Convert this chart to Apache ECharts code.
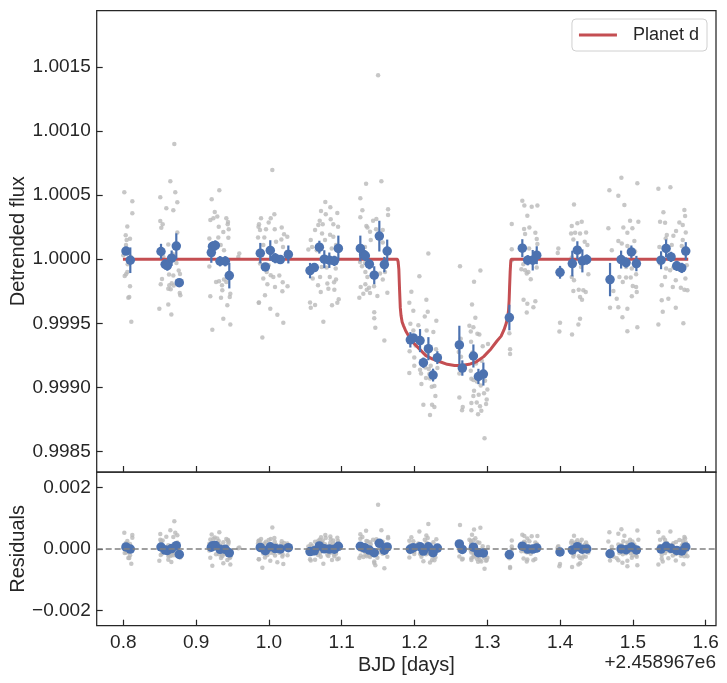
<!DOCTYPE html>
<html>
<head>
<meta charset="utf-8">
<script src="https://cdn.jsdelivr.net/npm/echarts@6/dist/echarts.min.js"></script>
<style>
  html, body { margin: 0; padding: 0; background: #fff; }
  #main { width: 727px; height: 683px; }
</style>
</head>
<body>
<div id="main"></div>
<script>
// raw photometry (grey points), one line per visit
var rawTime = [
  0.8014,0.8124,0.8124,0.8055,0.8033,0.8092,0.8046,0.8037,0.8055,0.8037,0.8019,0.8092,0.8082,0.8069,0.8110,0.8000,0.8060,0.8100,
  0.8701,0.8646,0.8714,0.8508,0.8742,0.8591,0.8687,0.8508,0.8541,0.8522,0.8742,0.8618,0.8761,0.8779,0.8628,0.8687,0.8532,0.8665,0.8632,0.8514,0.8692,0.8618,0.8651,0.8775,0.8783,0.8495,0.8618,0.8660,0.8550,0.8620,0.8680,0.8730,
  0.9319,0.9214,0.9256,0.9291,0.9237,0.9196,0.9415,0.9438,0.9434,0.9311,0.9374,0.9448,0.9182,0.9305,0.9338,0.9443,0.9383,0.9182,0.9274,0.9315,0.9383,0.9356,0.9415,0.9360,0.9470,0.9462,0.9195,0.9342,0.9429,0.9374,0.9470,0.9223,0.9593,0.9580,
  0.9857,0.9851,0.9860,1.0047,0.9892,1.0025,0.9864,0.9997,1.0075,0.9960,0.9878,1.0080,1.0176,0.9937,1.0208,1.0098,1.0171,1.0253,0.9923,1.0194,1.0245,0.9878,0.9997,0.9970,1.0025,1.0061,1.0143,0.9923,1.0190,0.9979,1.0084,1.0185,1.0256,0.9864,0.9946,1.0019,1.0116,1.0198,0.9910,
  1.0775,1.0844,1.0716,1.0781,1.0849,1.0940,1.0698,1.0679,1.0739,1.0885,1.0950,1.0634,1.0730,1.0840,1.0885,1.0575,1.0771,1.0593,1.0922,1.0542,1.0657,1.0863,1.0725,1.0794,1.0918,1.0602,1.0703,1.0836,1.0803,1.0895,1.0675,1.0922,1.0712,1.0899,1.0817,1.0959,1.0565,1.0634,1.0575,1.0867,1.0748,1.0940,
  1.1335,1.1545,1.1256,1.1284,1.1256,1.1339,1.1353,1.1476,1.1431,1.1472,1.1389,1.1399,1.1564,1.1503,1.1637,1.1637,1.1242,1.1320,1.1564,1.1252,1.1320,1.1279,1.1325,1.1353,1.1527,1.1595,1.1261,1.1325,1.1344,1.1376,1.1444,1.1564,1.1297,1.1389,1.1490,1.1242,1.1627,1.1447,1.1447,1.1462,1.1586,1.1500,
  1.1929,1.2190,1.2067,1.1957,1.2163,1.1984,1.2182,1.2141,1.2300,1.1943,1.2053,1.1984,1.2167,1.2259,1.1947,1.2015,1.1933,1.1997,1.2167,1.2213,1.2296,1.1997,1.2076,1.2149,1.2196,1.2090,1.2223,1.2314,1.2204,1.1929,1.2158,1.2213,1.2095,1.2237,1.2273,1.2287,1.2122,1.2241,1.2273,1.2213,
  1.2625,1.2905,1.2818,1.2790,1.2836,1.2754,1.2809,1.2773,1.2864,1.2891,1.2635,1.2777,1.2937,1.3010,1.2608,1.2639,1.2795,1.2924,1.2616,1.2773,1.2845,1.2781,1.2809,1.2855,1.2910,1.2969,1.3001,1.2818,1.2882,1.2955,1.2992,1.2809,1.2983,1.2781,1.2855,1.2900,1.2663,1.2653,1.2781,1.2873,1.2918,1.2616,1.2962,
  1.3303,1.3313,1.3313,1.3498,1.3542,1.3550,1.3564,1.3481,1.3509,1.3610,1.3688,1.3550,1.3336,1.3578,1.3505,1.3660,1.3519,1.3679,1.3336,1.3574,1.3688,1.3495,1.3468,1.3519,1.3679,1.3597,1.3542,1.3633,1.3660,1.3336,
  1.4191,1.4160,1.4237,1.4297,1.4151,1.4206,1.4274,1.4357,1.4182,1.4338,1.4375,1.3976,1.4160,1.4288,1.4388,1.4160,1.4191,1.4182,1.4256,1.4319,1.4352,1.4274,1.4301,1.3999,1.3990,1.4274,1.4251,1.4164,1.3968,
  1.4842,1.5061,1.4677,1.4800,1.4883,1.4961,1.5075,1.4663,1.4869,1.4924,1.4993,1.4800,1.4847,1.5020,1.4710,1.4924,1.5030,1.4824,1.4906,1.4985,1.5044,1.4814,1.4906,1.4970,1.4861,1.4998,1.5044,1.4778,1.4985,1.5053,1.4686,1.4800,1.4924,1.4856,1.5061,1.4924,1.4732,
  1.5350,1.5515,1.5419,1.5707,1.5717,1.5373,1.5442,1.5638,1.5685,1.5726,1.5466,1.5556,1.5593,1.5364,1.5451,1.5685,1.5534,1.5671,1.5373,1.5456,1.5511,1.5556,1.5625,1.5740,1.5442,1.5589,1.5721,1.5396,1.5548,1.5658,1.5707,1.5749,1.5487,1.5350,1.5589,1.5410,1.5693,1.5396
];
var rawFlux = [
  1.000523,1.000452,1.000358,1.000256,1.000186,1.000159,1.000149,1.000110,0.999900,0.999882,0.999869,0.999788,0.999705,0.999700,0.999512,1.000030,0.999960,1.000020,
  1.000899,1.000609,1.000523,1.000484,1.000444,1.000397,1.000382,1.000298,1.000272,1.000245,1.000209,1.000115,0.999911,0.999885,0.999880,0.999872,0.999846,0.999812,0.999796,0.999804,0.999794,0.999770,0.999765,0.999736,0.999718,0.999614,0.999647,0.999569,1.000020,0.999950,1.000040,0.999970,
  1.000538,1.000468,1.000368,1.000334,1.000319,1.000306,1.000319,1.000290,1.000272,1.000253,1.000212,1.000233,1.000162,1.000170,1.000110,1.000167,1.000070,0.999943,0.999822,0.999828,0.999841,0.999796,0.999822,0.999757,0.999731,0.999705,0.999710,0.999700,0.999640,0.999535,0.999490,0.999449,1.000045,1.000018,
  1.000253,1.000170,0.999660,1.000695,1.000319,1.000319,1.000272,1.000287,1.000350,1.000233,1.000227,1.000233,1.000248,1.000170,1.000194,1.000136,1.000154,1.000175,1.000110,1.000096,1.000057,0.999966,0.999953,0.999900,0.999875,0.999861,0.999872,0.999849,0.999820,0.999804,0.999783,0.999749,0.999788,0.999663,0.999718,0.999614,0.999567,0.999504,0.999389,
  1.000447,1.000405,1.000376,1.000350,1.000311,1.000360,1.000300,1.000266,1.000272,1.000272,1.000253,1.000227,1.000201,1.000190,1.000175,1.000149,1.000149,1.000096,1.000110,1.000076,1.000070,1.000084,0.999940,0.999935,0.999927,0.999849,0.999861,0.999861,0.999810,0.999820,0.999796,0.999841,0.999744,0.999762,0.999770,0.999687,0.999663,0.999642,0.999621,0.999640,0.999512,0.999660,
  1.000588,1.000609,1.000476,1.000382,1.000327,1.000259,1.000248,1.000313,1.000300,1.000233,1.000214,1.000149,1.000227,1.000170,1.000389,1.000345,1.000070,1.000096,1.000131,0.999979,0.999971,0.999945,0.999900,0.999861,0.999888,0.999900,0.999783,0.999804,0.999762,0.999778,0.999788,0.999841,0.999731,0.999736,0.999712,0.999700,0.999739,0.999587,0.999540,0.999465,0.999365,1.001434,
  0.999660,1.000045,0.999867,0.999747,0.999684,0.999598,0.999590,0.999553,0.999520,0.999496,0.999485,0.999444,0.999444,0.999433,0.999386,0.999326,0.999281,0.999234,0.999260,0.999287,0.999297,0.999169,0.999138,0.999156,0.999143,0.999109,0.999169,0.999151,0.999104,0.999112,0.999073,0.999070,0.999026,0.999005,0.999010,0.998932,0.998864,0.998864,0.998848,0.998785,
  0.999945,0.999911,0.999825,0.999647,0.999543,0.999480,0.999470,0.999436,0.999418,0.999412,0.999379,0.999357,0.999320,0.999339,0.999277,0.999240,0.999273,0.999208,0.999109,0.999130,0.999187,0.999067,0.999057,0.999046,0.999015,0.999052,0.998984,0.998973,0.998942,0.998955,0.998905,0.998932,0.998870,0.998879,0.998882,0.998853,0.998848,0.998822,0.998822,0.998791,0.998817,0.998921,0.998603,
  0.999422,0.999297,0.999260,0.999684,0.999585,0.999653,0.999900,1.000455,1.000418,1.000410,1.000418,1.000339,1.000274,1.000248,1.000235,1.000206,1.000196,1.000157,1.000078,1.000084,1.000118,0.999961,0.999922,0.999914,0.999935,0.999843,0.999888,0.999626,0.999671,0.999992,
  1.000426,1.000259,1.000280,1.000292,1.000201,1.000206,1.000201,1.000209,1.000154,1.000136,1.000110,1.000084,1.000013,0.999940,0.999882,0.999861,0.999835,0.999752,0.999762,0.999757,0.999744,0.999705,0.999684,0.999504,0.999436,0.999535,0.999490,0.999412,1.000049,
  1.000635,1.000593,1.000538,1.000494,1.000423,1.000300,1.000292,1.000241,1.000248,1.000206,1.000241,1.000141,1.000123,1.000141,1.000070,1.000102,1.000060,0.999992,0.999940,0.999927,0.999882,0.999861,0.999857,0.999857,0.999822,0.999791,0.999783,0.999692,0.999710,0.999744,0.999621,0.999626,0.999614,0.999548,0.999469,0.999438,0.999752,
  1.000549,1.000562,1.000366,1.000384,1.000337,1.000292,1.000285,1.000287,1.000266,1.000209,1.000188,1.000183,1.000219,1.000096,1.000162,1.000149,1.000110,1.000102,0.999966,0.999927,0.999914,0.999935,0.999935,0.999953,0.999861,0.999835,0.999849,0.999796,0.999783,0.999778,0.999762,0.999757,0.999692,0.999490,0.999621,0.999590,0.999501,0.999679
];

// binned points (blue) with error bars
var binTime = [
  0.8037,0.8096,0.8518,0.8575,0.8605,0.8664,0.8728,0.8769,
  0.9209,0.9225,0.9264,0.9329,0.9401,0.9456,
  0.9882,0.9951,1.0019,1.0088,1.0157,1.0267,
  1.0565,1.0624,1.0693,1.0761,1.0830,1.0899,1.0954,
  1.1256,1.1302,1.1325,1.1380,1.1447,1.1517,1.1586,1.1625,
  1.1943,1.1984,1.2076,1.2122,1.2191,1.2255,1.2314,
  1.2616,1.2657,1.2809,1.2878,1.2946,
  1.3303,1.3481,1.3555,1.3624,1.3679,
  1.3999,1.4168,1.4237,1.4306,1.4366,
  1.4686,1.4838,1.4906,1.4979,1.5048,
  1.5387,1.5456,1.5524,1.5602,1.5671,1.5726
];
var binFlux = [
  1.000063,0.999992,1.000060,0.999960,0.999950,1.000008,1.000102,0.999817,
  1.000052,1.000100,1.000107,0.999984,0.999984,0.999872,
  1.000047,0.999940,1.000068,1.000008,0.999997,1.000037,
  0.999911,0.999935,1.000094,1.000000,0.999992,0.999987,1.000084,
  1.000084,1.000037,1.000026,0.999961,0.999875,1.000180,0.999958,1.000063,
  0.999371,0.999386,0.999365,0.999193,0.999302,0.999096,0.999232,
  0.999331,0.999151,0.999245,0.999085,0.999104,
  0.999545,1.000086,0.999992,0.999992,1.000031,
  0.999898,0.999966,1.000070,0.999987,0.999997,
  0.999841,0.999997,0.999974,1.000057,0.999966,
  0.999992,1.000084,1.000018,0.999948,0.999932,1.000063
];
var binErr = [
  0.00003,0.00010,0.00006,0.00004,0.00004,0.00006,0.00010,0.00003,
  0.00008,0.00004,0.00004,0.00004,0.00004,0.00010,
  0.00008,0.00003,0.00008,0.00004,0.00003,0.00007,
  0.00006,0.00003,0.00005,0.00007,0.00006,0.00004,0.00010,
  0.00010,0.00004,0.00004,0.00004,0.00007,0.00012,0.00006,0.00009,
  0.00006,0.00003,0.00009,0.00004,0.00009,0.00005,0.00005,
  0.00015,0.00006,0.00009,0.00006,0.00009,
  0.00010,0.00007,0.00004,0.00008,0.00007,
  0.00005,0.00010,0.00007,0.00009,0.00004,
  0.00013,0.00007,0.00004,0.00005,0.00006,
  0.00007,0.00007,0.00004,0.00004,0.00004,0.00007
];

// transit model for planet d
var modelTime = [0.7995,1.1765,1.1775,1.1785,1.1795,1.1805,1.1815,1.1830,1.1850,1.1880,1.1920,1.1980,1.2050,1.2150,1.2250,1.2350,1.2450,1.2550,1.2650,1.2750,1.2850,1.2950,1.3050,1.3130,1.3190,1.3230,1.3260,1.3280,1.3292,1.3300,1.3306,1.3314,1.3322,1.3330,1.5760];
var modelFlux = [1.0,1.0,0.99998,0.99992,0.99976,0.99962,0.99956,0.99951,0.99948,0.99944,0.99940,0.99935,0.99931,0.99925,0.99922,0.99920,0.99918,0.99917,0.99917,0.99918,0.99920,0.99924,0.99930,0.99936,0.99940,0.99945,0.99950,0.99955,0.99960,0.99968,0.99978,0.99990,0.99998,1.0,1.0];

// ticks
var timeTicks = [0.8, 0.9, 1.0, 1.1, 1.2, 1.3, 1.4, 1.5, 1.6];
var fluxTicks = [0.9985, 0.9990, 0.9995, 1.0000, 1.0005, 1.0010, 1.0015];
var residTicks = [-0.002, 0, 0.002];

// model value at time t (residual = data - model)
function modelAt(t) {
    if (t <= modelTime[0]) return modelFlux[0];
    for (var i = 1; i < modelTime.length; i++) {
        if (t <= modelTime[i]) {
            var f = (t - modelTime[i - 1]) / (modelTime[i] - modelTime[i - 1]);
            return modelFlux[i - 1] + f * (modelFlux[i] - modelFlux[i - 1]);
        }
    }
    return modelFlux[modelFlux.length - 1];
}

var rawPts = [], rawRes = [];
for (var i = 0; i < rawTime.length; i++) {
    if (rawFlux[i] === undefined) continue;
    rawPts.push([rawTime[i], rawFlux[i]]);
    rawRes.push([rawTime[i], rawFlux[i] - modelAt(rawTime[i])]);
}
var binPts = [], binBars = [], binRes = [];
for (var j = 0; j < binTime.length; j++) {
    binPts.push([binTime[j], binFlux[j]]);
    binBars.push([binTime[j], binFlux[j] - binErr[j], binFlux[j] + binErr[j]]);
    binRes.push([binTime[j], binFlux[j] - modelAt(binTime[j])]);
}
var modelPts = modelTime.map(function (t, k) { return [t, modelFlux[k]]; });

var FONT = '"Liberation Sans", Arial, sans-serif';
var INK = '#262626';
var BLUE = '#4c72b0';
var RED = '#c44e52';
var GREY = '#b9b9b9';

function xAxisCfg(grid, labels) {
    return {
        type: 'value', gridIndex: grid,
        min: 0.76346, max: 1.61415,
        axisLine: { show: false, onZero: false },
        splitLine: { show: false },
        axisTick: { show: true, inside: true, length: 6, customValues: timeTicks, lineStyle: { color: INK, width: 1.2 } },
        axisLabel: {
            show: labels, customValues: timeTicks, margin: 8,
            color: INK, fontSize: 19, fontFamily: FONT,
            formatter: function (v) { return v.toFixed(1); }
        },
        name: labels ? 'BJD [days]' : '',
        nameLocation: 'middle', nameGap: 30, nameMoveOverlap: false,
        nameTextStyle: { color: INK, fontSize: 20, fontFamily: FONT }
    };
}
function yAxisCfg(grid, min, max, ticks, digits, name) {
    return {
        type: 'value', gridIndex: grid, min: min, max: max,
        axisLine: { show: false, onZero: false },
        splitLine: { show: false },
        axisTick: { show: true, inside: true, length: 6, customValues: ticks, lineStyle: { color: INK, width: 1.2 } },
        axisLabel: {
            customValues: ticks, margin: 6,
            color: INK, fontSize: 19, fontFamily: FONT,
            formatter: function (v) { return v.toFixed(digits).replace('-', '\u2212'); }
        },
        name: name, nameLocation: 'middle', nameGap: 68, nameRotate: 90, nameMoveOverlap: false,
        nameTextStyle: { color: INK, fontSize: 20, fontFamily: FONT }
    };
}

function errorBars(params, api) {
    var lo = api.coord([api.value(0), api.value(1)]);
    var hi = api.coord([api.value(0), api.value(2)]);
    return { type: 'line', shape: { x1: lo[0], y1: lo[1], x2: hi[0], y2: hi[1] },
             style: { stroke: BLUE, lineWidth: 2.2 } };
}

var myChart = echarts.init(document.getElementById('main'));
var option = {
    animation: false,
    backgroundColor: '#fff',
    grid: [
        { left: 96.7, top: 10.5, width: 619.3, height: 461.5, containLabel: false, outerBoundsMode: 'none',
          show: true, borderColor: INK, borderWidth: 1.25, backgroundColor: 'transparent' },
        { left: 96.7, top: 472, width: 619.3, height: 153.7, containLabel: false, outerBoundsMode: 'none',
          show: true, borderColor: INK, borderWidth: 1.25, backgroundColor: 'transparent' }
    ],
    legend: {
        data: [{ name: 'Planet d', icon: 'rect' }],
        right: 20, top: 19,
        padding: [7, 8, 7, 7],
        itemWidth: 38, itemHeight: 3,
        backgroundColor: '#fff',
        borderColor: '#d0d0d0', borderWidth: 1, borderRadius: 4,
        textStyle: { color: INK, fontSize: 18, fontFamily: FONT, padding: [0, 0, 0, 11] }
    },
    xAxis: [xAxisCfg(0, false), xAxisCfg(1, true)],
    yAxis: [
        yAxisCfg(0, 0.99834, 1.00194, fluxTicks, 4, 'Detrended flux'),
        yAxisCfg(1, -0.0025, 0.0025, residTicks, 3, 'Residuals')
    ],
    graphic: [{
        type: 'text', right: 11, top: 653,
        style: { text: '+2.458967e6', fill: INK, font: '19px ' + FONT }
    }],
    series: [
        { type: 'scatter', xAxisIndex: 0, yAxisIndex: 0, data: rawPts, symbolSize: 4.5,
          itemStyle: { color: GREY }, z: 1, silent: true },
        { name: 'Planet d', type: 'line', xAxisIndex: 0, yAxisIndex: 0, data: modelPts,
          showSymbol: false, symbol: 'none', lineStyle: { color: RED, width: 3 },
          itemStyle: { color: RED }, z: 2, silent: true },
        { type: 'custom', xAxisIndex: 0, yAxisIndex: 0, data: binBars, renderItem: errorBars,
          encode: { x: 0, y: [1, 2] }, z: 3, silent: true },
        { type: 'scatter', xAxisIndex: 0, yAxisIndex: 0, data: binPts, symbolSize: 9.5,
          itemStyle: { color: BLUE, opacity: 1 }, z: 4, silent: true },

        { type: 'scatter', xAxisIndex: 1, yAxisIndex: 1, data: rawRes, symbolSize: 4.5,
          itemStyle: { color: GREY }, z: 1, silent: true,
          markLine: { silent: true, symbol: ['none', 'none'], label: { show: false },
                      lineStyle: { color: '#808080', width: 1.5, type: [6, 3] },
                      data: [{ yAxis: 0 }] } },
        { type: 'scatter', xAxisIndex: 1, yAxisIndex: 1, data: binRes, symbolSize: 9.5,
          itemStyle: { color: BLUE, opacity: 1 }, z: 4, silent: true }
    ]
};
myChart.setOption(option);
window.addEventListener('resize', function () { myChart.resize(); });
</script>
</body>
</html>
